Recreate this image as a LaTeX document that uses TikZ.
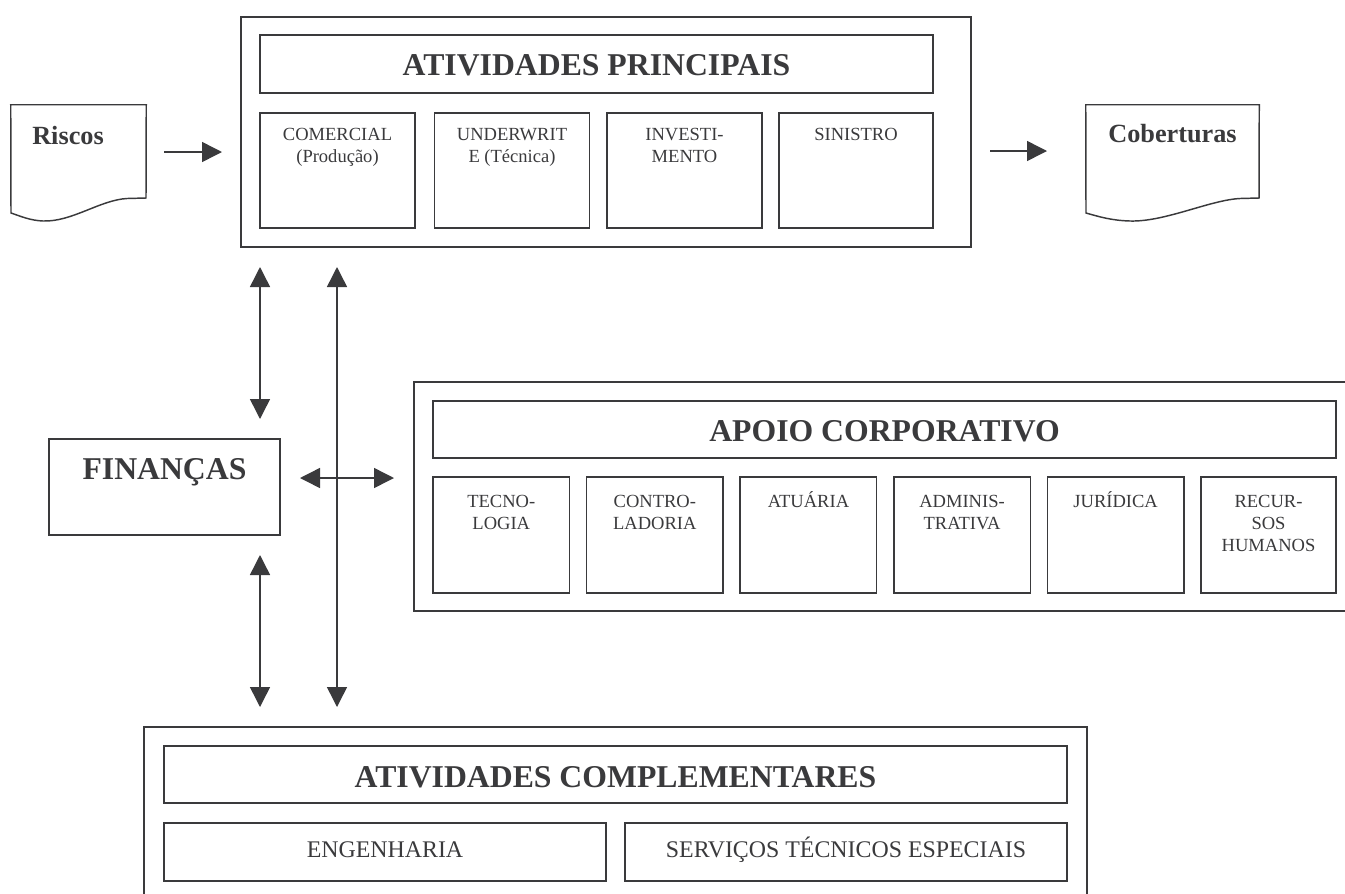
\documentclass[tikz,border=0pt]{standalone}
\usepackage{fontspec}
\setmainfont{Liberation Serif}
\usetikzlibrary{arrows.meta,fit}
\definecolor{ink}{RGB}{58,58,60}
\newcommand\tstrut{\rule{0pt}{13pt}}
\newcommand\bstrut{\rule{0pt}{17pt}}
\begin{document}
\begin{tikzpicture}[x=0.75pt,y=-0.75pt,
  line/.style={draw=ink,line width=1.1pt},
  bx/.style={line,rectangle,inner sep=0pt,outer sep=0pt,text=ink},
  hdr/.style={font=\fontsize{23.8pt}{27pt}\selectfont\bfseries,text depth=0pt,text=ink,inner sep=0pt},
  doctxt/.style={font=\fontsize{19.7pt}{23pt}\selectfont\bfseries,text=ink,inner sep=0pt},
  subtxt/.style={font=\fontsize{13.9pt}{16.5pt}\selectfont,align=center,anchor=north,inner sep=0pt,text=ink},
  toptxt/.style={subtxt,yshift=-7.3pt},
  aptxt/.style={subtxt,yshift=-9.3pt},
  bottxt/.style={subtxt,font=\fontsize{17.9pt}{21pt}\selectfont,yshift=-8.3pt},
  tip/.tip={Triangle[length=15pt,width=15pt]},
  arr/.style={line,-tip},
  darr/.style={line,tip-tip}]
\useasboundingbox (0,0) rectangle (1345,893);

% ---------- Atividades principais ----------
\node[bx,fit={(241,17) (971,247)}] (main) {};
\node[bx,fit={(260,35) (933,93)}] (mainT) {};
\node[hdr] (mainTt) at ([yshift=-0.8pt]mainT.center) {ATIVIDADES PRINCIPAIS};
\node[bx,fit={(260,113) (415,228)},label={[toptxt]north:{\tstrut COMERCIAL\\(Produção)}}] (com) {};
\node[bx,fit={(434.5,113) (589.5,228)},label={[toptxt]north:{\tstrut UNDERWRIT\\E (Técnica)}}] (und) {};
\node[bx,fit={(607,113) (762,228)},label={[toptxt]north:{\tstrut INVESTI-\\MENTO}}] (inv) {};
\node[bx,fit={(779,113) (933,228)},label={[toptxt]north:{\tstrut SINISTRO}}] (sin) {};

% ---------- Riscos / Coberturas ----------
\node[inner sep=0pt,fit={(11,105) (146,221)}] (risc) {};
\draw[line] (risc.north west) -- (risc.north east) -- (146,198) -- (127,198.5)
  .. controls (100,200) and (72,222) .. (43,221)
  .. controls (30,220.5) and (20,216) .. (11,213) -- cycle;
\node[doctxt,anchor=north west] (riscT) at (32,126) {Riscos};

\node[inner sep=0pt,fit={(1086,105) (1259,221)}] (cob) {};
\draw[line] (cob.north west) -- (cob.north east) -- (1259,198) -- (1240,198.5)
  .. controls (1210,200) and (1165,222) .. (1130,221)
  .. controls (1112,220.5) and (1100,217) .. (1086,213) -- cycle;
\node[doctxt,anchor=north] (cobT) at (1172.5,124) {Coberturas};

\coordinate (r1) at (164,152);
\coordinate (r2) at (222,152);
\draw[arr] (r1) -- (r2);
\coordinate (c1) at (990,151);
\coordinate (c2) at (1047,151);
\draw[arr] (c1) -- (c2);

% ---------- Finanças ----------
\node[bx,fit={(49,439) (280,535)},label={[hdr,anchor=north,yshift=-14.25pt]north:FINANÇAS}] (fin) {};

% ---------- Apoio corporativo ----------
\node[bx,fit={(414,382) (1370,611)}] (apoio) {};
\node[bx,fit={(433,401) (1336,458)}] (apoioT) {};
\node[hdr] (apoioTt) at ([yshift=-1pt]apoioT.center) {APOIO CORPORATIVO};
\node[bx,fit={(433,477) (569.5,593)},label={[aptxt]north:{\tstrut TECNO-\\LOGIA}}] (tec) {};
\node[bx,fit={(586.6,477) (723.1,593)},label={[aptxt]north:{\tstrut CONTRO-\\LADORIA}}] (con) {};
\node[bx,fit={(740.2,477) (876.7,593)},label={[aptxt]north:{\tstrut ATUÁRIA}}] (atu) {};
\node[bx,fit={(893.8,477) (1030.3,593)},label={[aptxt]north:{\tstrut ADMINIS-\\TRATIVA}}] (adm) {};
\node[bx,fit={(1047.4,477) (1183.9,593)},label={[aptxt]north:{\tstrut JURÍDICA}}] (jur) {};
\node[bx,fit={(1201,477) (1336,593)},label={[aptxt]north:{\tstrut RECUR-\\SOS\\HUMANOS}}] (rh) {};

% ---------- Atividades complementares ----------
\node[bx,fit={(144,727) (1087,920)}] (comp) {};
\node[bx,fit={(164,746) (1067,803)}] (compT) {};
\node[hdr] (compTt) at ([yshift=-2pt]compT.center) {ATIVIDADES COMPLEMENTARES};
\node[bx,fit={(164,823) (606,881)},label={[bottxt]north:{\bstrut ENGENHARIA}}] (eng) {};
\node[bx,fit={(625,823) (1067,881)},label={[bottxt]north:{\bstrut SERVIÇOS TÉCNICOS ESPECIAIS}}] (ste) {};

% ---------- connectors ----------
\coordinate (v1a) at (260,267);
\coordinate (v1b) at (260,419);
\coordinate (v2a) at (260,555);
\coordinate (v2b) at (260,707);
\coordinate (v3a) at (337,267);
\coordinate (v3b) at (337,707);
\coordinate (h1) at (300,478);
\coordinate (h2) at (394,478);
\draw[darr] (v1a) -- (v1b);
\draw[darr] (v2a) -- (v2b);
\draw[darr] (v3a) -- (v3b);
\draw[darr] (h1) -- (h2);
\end{tikzpicture}
\end{document}
